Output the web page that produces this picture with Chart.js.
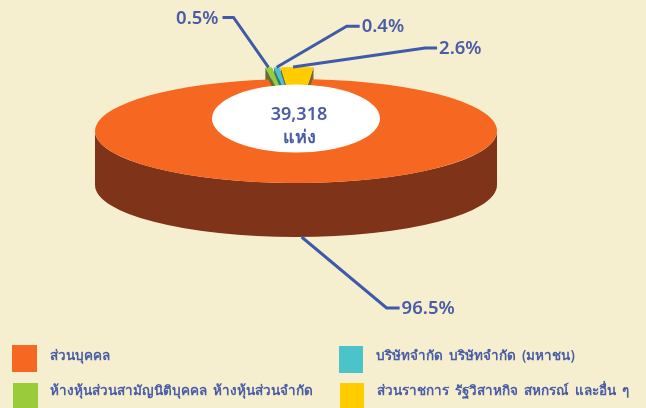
<!DOCTYPE html>
<html><head><meta charset="utf-8">
<style>html,body{margin:0;padding:0;background:#f5efcf;overflow:hidden}canvas{display:block}</style>
<script src="https://cdn.jsdelivr.net/npm/chart.js@4"></script>
</head><body><canvas id="c" width="646" height="408"></canvas>
<script>
const categories = ["ส่วนบุคคล","ห้างหุ้นส่วนสามัญนิติบุคคล ห้างหุ้นส่วนจำกัด","บริษัทจำกัด บริษัทจำกัด (มหาชน)","ส่วนราชการ รัฐวิสาหกิจ สหกรณ์ และอื่น ๆ"];
const values = [96.5,0.5,0.4,2.6];
const valueLabels = ["96.5%","0.5%","0.4%","2.6%"];
const centerLabels = ["39,318","แห่ง"];
const colors = ["#f66821","#9acb3b","#4ac3c9","#ffcc00"];
const sideColors = ["#7f3318","#5f7030","#2f7a80","#7d6a2a"];

const FONT = '"Noto Sans","Open Sans",Tahoma,sans-serif';
const BLUE = "#3f5aa8", TEXT = "#4a5ca6";
const SQUASH = 52/201, DEPTH = 54, CY = 131;
const EXPLODE_Y = [0,-12,-12,-12], EXPLODE_X = [0,-3,-0.5,1];

const pie3d = {
  id:"pie3d",
  beforeDatasetDraw(chart){
    const ctx = chart.ctx, arcs = chart.getDatasetMeta(0).data;
    const d = DEPTH/SQUASH;
    const inView = (i,fn)=>{
      const el = arcs[i];
      ctx.save();
      ctx.translate(EXPLODE_X[i], CY+EXPLODE_Y[i]);
      ctx.translate(el.x,0); ctx.scale(1,SQUASH); ctx.translate(-el.x,-el.y);
      fn(el);
      ctx.restore();
    };
    const side = i=>inView(i,({x,y,outerRadius:r,startAngle:s,endAngle:e})=>{
      ctx.fillStyle = sideColors[i];
      const a0=Math.max(s,0), a1=Math.min(e,Math.PI);
      if(a1>a0){
        ctx.beginPath(); ctx.arc(x,y,r,a0,a1); ctx.arc(x,y+d,r,a1,a0,true); ctx.closePath(); ctx.fill();
      }
      [s,e].forEach(a=>{
        const rx=x+r*Math.cos(a), ry=y+r*Math.sin(a);
        ctx.beginPath(); ctx.moveTo(x,y); ctx.lineTo(rx,ry); ctx.lineTo(rx,ry+d); ctx.lineTo(x,y+d); ctx.closePath(); ctx.fill();
      });
    });
    const top = i=>inView(i,({x,y,outerRadius:r,startAngle:s,endAngle:e})=>{
      ctx.fillStyle = colors[i];
      ctx.beginPath(); ctx.moveTo(x,y); ctx.arc(x,y,r,s,e); ctx.closePath(); ctx.fill();
    });
    [1,2,3].forEach(side);
    [1,2,3].forEach(top);
    side(0); top(0);
    return false;
  },
  afterDatasetsDraw(chart){
    const ctx = chart.ctx, arcs = chart.getDatasetMeta(0).data;
    const c = arcs[0];
    ctx.fillStyle="#fff";
    ctx.beginPath();
    ctx.ellipse(c.x, CY-12.5, c.outerRadius*0.418, 34, 0, 0, Math.PI*2);
    ctx.fill();
    ctx.fillStyle=TEXT; ctx.textAlign="center"; ctx.textBaseline="middle";
    ctx.font='600 18px '+FONT;
    ctx.fillText(centerLabels[0], c.x+3, 115);
    ctx.font='bold 18px '+FONT;
    ctx.fillText(centerLabels[1], c.x+3, 138);
    const knees=[[85,71,13],[-35,-50,-11],[70,-41,13],[132,-19,12]];
    ctx.strokeStyle=BLUE; ctx.lineWidth=3; ctx.lineJoin="miter";
    ctx.textBaseline="middle";
    arcs.forEach((el,i)=>{
      const mid=(el.startAngle+el.endAngle)/2;
      const px=el.x+el.outerRadius*Math.cos(mid)+EXPLODE_X[i];
      const py=CY+el.outerRadius*Math.sin(mid)*SQUASH+EXPLODE_Y[i];
      const ax=px+(i===3?-4:0), ay=py+(i===0?DEPTH:0);
      const [dx,dy,h]=knees[i];
      ctx.beginPath(); ctx.moveTo(ax,ay); ctx.lineTo(ax+dx,ay+dy); ctx.lineTo(ax+dx+h,ay+dy); ctx.stroke();
      ctx.font='600 18.5px '+FONT;
      ctx.fillStyle=TEXT;
      ctx.textAlign=h<0?"right":"left";
      ctx.fillText(valueLabels[i], ax+dx+h+(h<0?-4:2), ay+dy+1);
    });
    const cells=[[12,345,25,27,50,356],[13,383,25,25,50,391],[339,346,24,27,376,356],[340,383,24,25,377,391]];
    ctx.font='600 13.5px '+FONT; ctx.textAlign="left"; ctx.wordSpacing="2.5px";
    categories.forEach((t,i)=>{
      const [x,y,w,hh,tx,ty]=cells[i];
      ctx.fillStyle=colors[i];
      ctx.fillRect(x,y,w,hh);
      ctx.fillStyle=TEXT;
      ctx.fillText(t,tx,ty);
    });
    ctx.wordSpacing="0px";
  }
};
new Chart(document.getElementById("c"),{
  type:"pie",
  data:{labels:categories,datasets:[{data:values,backgroundColor:colors,borderWidth:0}]},
  options:{
    responsive:false,animation:false,rotation:4.7,
    layout:{padding:{left:0,right:54,top:3,bottom:3}},
    plugins:{legend:{display:false},tooltip:{enabled:false}}
  },
  plugins:[pie3d]
});
</script></body></html>
